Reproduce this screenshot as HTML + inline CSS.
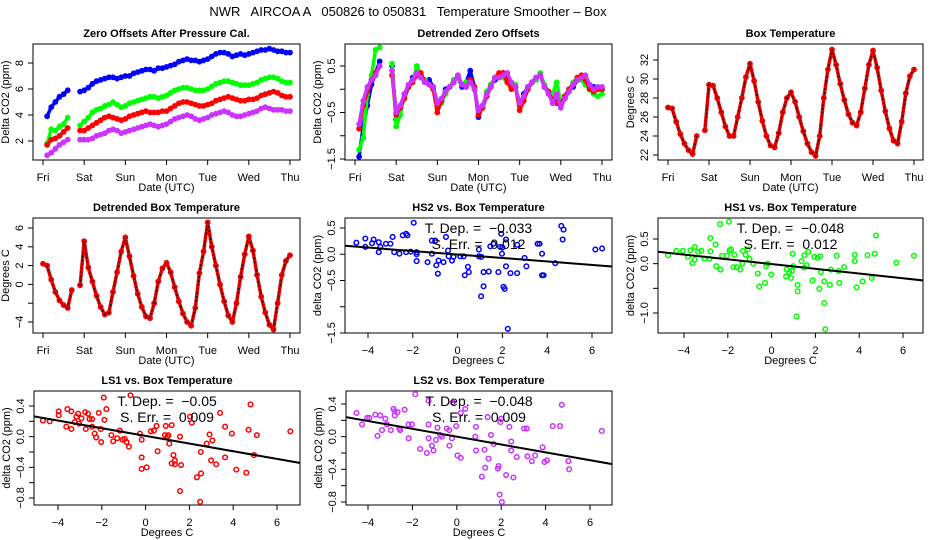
<!DOCTYPE html>
<html><head><meta charset="utf-8"><style>
html,body{margin:0;padding:0;background:#fff;}
svg{display:block;font-family:"Liberation Sans",sans-serif;}
text{white-space:pre;}
</style></head><body>
<svg id="fig" width="936" height="540" viewBox="0 0 936 540" xmlns="http://www.w3.org/2000/svg">
<rect width="936" height="540" fill="#fff"/>
<text x="408" y="16" font-size="13" text-anchor="middle" xml:space="preserve">NWR   AIRCOA A   050826 to 050831   Temperature Smoother – Box</text>
</svg>
<script>
// ---------- data ----------
const dayLabels = ["Fri","Sat","Sun","Mon","Tue","Wed","Thu"];
const zeroBlue = [3.9,4.6,5.0,5.4,5.6,5.9,null,null,5.8,5.9,6.1,6.4,6.6,6.7,6.8,6.9,6.9,6.8,6.9,7.0,7.0,7.2,7.3,7.4,7.5,7.5,7.4,7.6,7.6,7.7,7.8,7.9,8.1,8.2,8.3,8.2,8.2,8.1,8.2,8.3,8.5,8.7,8.8,8.8,8.7,8.5,8.6,8.7,8.6,8.7,8.8,8.9,9.0,9.0,9.1,9.0,8.9,8.9,8.8,8.8];
const zeroGreen = [1.8,2.9,2.8,3.1,3.3,3.8,null,null,3.2,3.5,3.8,4.2,4.4,4.5,4.7,4.8,5.0,4.8,4.6,4.7,4.9,5.0,5.1,5.2,5.3,5.4,5.4,5.3,5.4,5.5,5.7,5.9,6.0,6.1,6.1,6.0,5.9,5.9,5.9,6.0,6.2,6.4,6.5,6.6,6.6,6.5,6.4,6.3,6.3,6.3,6.4,6.5,6.7,6.8,6.9,6.9,6.8,6.6,6.5,6.5];
const zeroRed = [1.7,2.1,2.2,2.4,2.7,3.0,null,null,2.8,2.8,3.0,3.2,3.4,3.6,3.8,3.9,3.8,3.7,3.6,3.7,3.9,4.0,4.1,4.2,4.3,4.2,4.2,4.2,4.3,4.3,4.5,4.7,4.9,5.0,5.0,4.9,4.8,4.7,4.7,4.8,4.9,5.1,5.2,5.3,5.4,5.3,5.2,5.1,5.1,5.2,5.2,5.3,5.5,5.6,5.7,5.8,5.7,5.5,5.4,5.4];
const zeroPurple = [0.9,1.1,1.4,1.7,1.9,2.1,null,null,2.1,2.1,2.1,2.2,2.4,2.5,2.6,2.8,2.9,2.8,2.6,2.7,2.8,2.9,3.0,3.1,3.2,3.3,3.2,3.1,3.2,3.3,3.5,3.7,3.8,3.9,4.0,3.9,3.7,3.6,3.7,3.8,4.0,4.1,4.2,4.3,4.2,4.0,3.9,3.9,4.0,4.1,4.2,4.3,4.5,4.6,4.5,4.4,4.4,4.4,4.3,4.3];
const detBlue = [-1.45,-0.8,-0.35,0.1,0.35,0.6,null,null,0.5,-0.65,-0.4,-0.1,0.05,0.25,0.35,0.3,0.15,0.2,0.05,-0.3,-0.25,0.0,0.05,0.2,0.25,0.05,0.15,0.4,0.05,-0.6,-0.35,-0.15,0.1,0.2,0.3,0.35,0.3,0.05,0.05,-0.35,-0.1,0.05,0.15,0.25,0.3,0.05,-0.05,-0.15,-0.2,-0.35,-0.15,0.0,0.05,0.2,0.25,0.1,0.05,0.05,0.0,0.0];
const detGreen = [-1.3,-1.05,-0.1,0.3,0.85,0.9,null,null,0.55,-0.8,-0.55,-0.1,0.05,0.15,0.5,0.3,0.2,0.1,0.0,-0.4,-0.3,-0.1,0.05,0.2,0.25,0.1,0.15,0.2,0.0,-0.5,-0.4,-0.05,0.1,0.25,0.3,0.25,0.15,0.05,0.1,-0.45,-0.2,0.05,0.15,0.2,0.35,0.1,-0.05,-0.1,0.15,-0.3,-0.2,0.0,0.15,0.25,0.2,0.1,0.0,-0.1,-0.15,-0.1];
const detRed = [-0.85,-0.35,-0.05,0.2,0.35,0.5,null,null,0.3,-0.55,-0.4,-0.2,0.05,0.15,0.3,0.35,0.15,0.1,0.0,-0.5,-0.25,-0.05,0.05,0.15,0.3,0.1,0.05,0.2,0.05,-0.55,-0.4,-0.15,0.05,0.25,0.35,0.35,0.15,0.0,0.05,-0.45,-0.25,0.0,0.15,0.25,0.3,0.05,-0.05,-0.25,-0.3,-0.3,-0.15,0.0,0.1,0.25,0.3,0.2,0.0,-0.05,0.0,0.0];
const detPurple = [-0.75,-0.25,0.05,0.2,0.3,0.5,null,null,0.4,-0.5,-0.35,-0.1,0.1,0.2,0.35,0.25,0.15,0.1,0.05,-0.3,-0.2,-0.05,0.05,0.15,0.3,0.1,0.05,0.15,0.0,-0.45,-0.35,-0.1,0.05,0.25,0.25,0.3,0.35,0.15,0.05,-0.3,-0.15,0.05,0.15,0.25,0.3,0.05,-0.1,-0.3,-0.1,-0.4,-0.2,-0.05,0.1,0.2,0.25,0.3,0.1,0.0,0.05,0.05];
const boxTemp = [27.0,26.9,25.5,24.2,23.2,22.5,22.1,24.0,null,24.6,29.4,29.3,28.0,26.5,25.0,24.0,24.0,26.0,28.0,30.2,31.6,29.8,27.6,25.6,24.0,23.0,22.8,24.3,26.5,28.0,28.6,27.6,26.0,24.5,23.2,22.3,21.9,24.0,28.0,31.0,33.1,31.5,29.5,27.8,26.3,25.4,25.1,26.5,29.0,31.5,33.0,31.2,28.8,26.6,24.8,23.5,23.2,25.5,28.5,30.3,31.0];
const detBoxTemp = [2.2,2.0,0.5,-0.8,-1.7,-2.2,-2.5,-0.6,null,-0.1,4.6,1.8,0.3,-1.2,-2.4,-3.2,-3.0,-0.8,1.3,3.5,5.0,3.0,0.9,-1.0,-2.4,-3.4,-3.6,-2.0,0.3,1.7,2.3,1.3,-0.3,-1.8,-3.1,-4.0,-4.4,-2.5,1.2,3.5,6.6,4.0,2.0,0.0,-1.8,-3.3,-4.0,-2.0,0.8,3.2,5.1,3.6,1.0,-1.3,-3.0,-4.3,-4.8,-2.0,1.0,2.5,3.1];
const hs2X = [-4.52,-4.12,-4.12,-3.75,-3.82,-3.52,-3.52,-3.45,-3.2,-3.0,-2.9,-2.83,-2.6,-2.45,-2.3,-2.24,-2.3,-2.1,-1.96,-1.83,-1.83,-1.83,-1.34,-1.15,-1.15,-1.0,-0.95,-0.88,-0.85,-0.63,-0.52,-0.43,-0.4,-0.25,-0.18,0.12,0.27,0.32,0.46,0.5,0.95,0.95,1.06,1.05,1.16,1.16,1.39,1.46,1.6,1.82,1.9,1.95,1.98,2.0,2.05,2.1,2.16,2.16,2.24,2.36,2.66,2.66,2.99,3.07,3.57,3.66,3.77,3.77,3.84,4.36,4.63,4.73,4.69,6.15,6.45];
const hs2Y = [0.22,0.30,0.14,0.28,0.21,0.23,0.04,0.14,0.2,0.2,0.33,0.04,0.01,0.36,0.39,0.36,0.04,0.05,0.6,0.04,0.0,-0.13,-0.15,0.26,0.01,0.26,-0.21,-0.37,-0.12,-0.15,0.33,0.07,-0.04,-0.12,-0.05,-0.04,-0.04,-0.4,-0.24,-0.34,0.09,-0.04,-0.05,-0.8,-0.61,-0.34,-0.33,0.15,0.2,-0.34,0.14,0.39,0.01,0.13,-0.62,-0.66,-0.23,0.28,-1.42,-0.36,0.18,-0.36,-0.07,-0.23,0.2,0.2,0.01,-0.4,-0.4,-0.17,0.54,0.47,0.28,0.09,0.11];
const hs1X = [-4.73,-4.35,-4.05,-3.82,-3.71,-3.62,-3.51,-3.51,-3.36,-3.21,-3.06,-2.83,-2.8,-2.79,-2.56,-2.53,-2.35,-2.33,-2.26,-2.04,-1.95,-1.92,-1.85,-1.74,-1.7,-1.59,-1.44,-1.34,-1.31,-1.19,-1.09,-1.01,-0.83,-0.63,-0.56,-0.3,-0.25,-0.18,-0.02,0.66,0.69,0.81,0.89,0.92,0.96,0.99,1.14,1.19,1.19,1.37,1.49,1.49,1.6,1.67,1.87,1.95,2.1,2.18,2.22,2.25,2.4,2.4,2.45,2.66,2.71,2.97,3.06,3.09,3.31,3.8,3.8,3.88,4.15,4.38,4.57,4.71,4.76,5.7,6.5];
const hs1Y = [0.17,0.26,0.26,0.14,0.27,0.01,0.34,0.08,0.24,0.26,0.1,0.1,0.52,0.25,0.39,-0.05,0.8,-0.12,0.16,0.16,0.85,0.27,0.29,-0.07,0.18,-0.07,-0.12,0,0.26,0.18,0.29,0.1,0,-0.2,-0.46,-0.39,-0.05,0,-0.22,-0.26,-0.12,-0.17,-0.29,-0.15,0.2,-0.05,-1.07,-0.43,-0.56,0.05,0.17,-0.08,-0.03,0.24,-0.34,0.14,0.12,-0.51,0.15,-0.17,-0.36,-0.8,-1.33,-0.43,-0.12,0.16,-0.15,-0.39,-0.07,0.18,0.05,-0.48,-0.36,0.17,-0.29,0.2,0.57,0.02,0.16];
const ls1X = [-4.69,-4.38,-3.97,-3.97,-3.57,-3.62,-3.39,-3.39,-3.24,-3.16,-3.08,-3.04,-2.93,-2.76,-2.73,-2.63,-2.56,-2.44,-2.44,-2.33,-2.26,-2.14,-2.05,-2.03,-1.91,-1.88,-1.79,-1.56,-1.48,-1.3,-1.18,-1.05,-0.95,-0.87,-0.76,-0.69,-0.26,-0.18,-0.18,-0.18,0.05,0.24,0.38,0.5,0.55,0.88,0.92,0.99,1.04,1.08,1.19,1.19,1.27,1.34,1.34,1.57,1.57,1.62,2.03,2.11,2.34,2.49,2.52,2.53,2.79,2.92,2.99,3.05,3.22,3.4,3.63,3.63,3.94,4.14,4.6,4.7,4.79,4.95,5.08,6.61];
const ls1Y = [0.21,0.2,0.33,0.28,0.36,0.13,0.33,0.1,0.19,0.26,0.3,0.17,0.24,0.32,0.1,0.3,0.23,0.23,0.13,0.04,-0.01,0.31,0.1,-0.07,0.51,0.22,0.36,0.02,-0.06,-0.02,0.08,-0.04,-0.03,-0.07,-0.13,0.54,0.04,-0.04,-0.27,-0.42,-0.4,0.07,0.08,0.14,-0.19,0.02,0.14,0,0.02,-0.09,0.15,-0.35,-0.24,-0.31,-0.36,0,-0.71,-0.37,0.26,0.18,-0.53,-0.85,-0.2,-0.48,-0.09,0.03,-0.31,-0.05,-0.36,0.31,-0.27,0.13,0.04,-0.43,-0.47,0.09,0.42,-0.24,0.02,0.07];
const ls2X = [-4.52,-4.27,-4.04,-3.94,-3.67,-3.57,-3.45,-3.37,-3.22,-3.15,-2.97,-2.85,-2.8,-2.8,-2.67,-2.59,-2.55,-2.35,-2.17,-2.17,-2.02,-1.87,-1.65,-1.35,-1.27,-1.27,-1.27,-1.12,-1.05,-0.94,-0.87,-0.75,-0.67,-0.45,-0.34,-0.33,-0.22,-0.18,-0.03,0.03,0.18,0.18,0.38,0.83,0.86,0.87,1.25,1.28,1.13,1.43,1.39,1.54,1.66,1.85,1.88,1.93,1.96,2.0,2.03,2.22,2.37,2.45,2.45,2.55,2.7,3.03,3.15,3.18,3.38,3.53,3.86,3.95,4.06,4.32,4.65,4.73,5.03,5.06,6.53];
const ls2Y = [0.29,0.15,0.23,0.23,0.27,0.01,0.26,0.08,0.22,0.15,0.08,0.34,0.26,0.31,0.3,0.1,0.08,0.33,-0.02,0.15,0.15,0.52,-0.15,-0.2,0.15,-0.02,0.44,-0.11,-0.17,-0.04,0.11,0.02,0,0.1,0.08,-0.11,-0.02,0.42,0.13,-0.23,-0.26,0.29,0.34,0,0.12,-0.17,-0.16,-0.38,-0.49,-0.27,0.24,0.02,-0.09,-0.39,-0.36,-0.71,0.18,0.22,-0.8,-0.47,0.12,-0.06,-0.17,-0.5,-0.25,0.1,0.1,-0.24,-0.3,-0.23,-0.13,-0.31,-0.29,0.13,0.13,0.39,-0.3,-0.4,0.07];
const fitSlopes = [-0.033,-0.048,-0.05,-0.048];
const fitIntercepts = [-0.005,-0.008,0.01,0.0];
const fitLabels = ["−0.033","−0.048","−0.05","−0.048"];
const errLabels = ["0.012","0.012","0.009","0.009"];

// ---------- drawing ----------
const NS = "http://www.w3.org/2000/svg";
const svg = document.getElementById("fig");
function mk(tag, attrs, parent) {
  const e = document.createElementNS(NS, tag);
  for (const k in attrs) e.setAttribute(k, attrs[k]);
  (parent || svg).appendChild(e);
  return e;
}
function lin(v0, p0, v1, p1) { return v => p0 + (v - v0) * (p1 - p0) / (v1 - v0); }

function panel(cfg) {
  const g = mk("g", {});
  
  
  const [l, t, r, b] = cfg.box;
  const X = lin(cfg.xr[0], cfg.xr[1], cfg.xr[2], cfg.xr[3]);
  const Y = lin(cfg.yr[0], cfg.yr[1], cfg.yr[2], cfg.yr[3]);
  const box = mk("rect", {x: l, y: t, width: r - l, height: b - t, fill: "none", stroke: "#000", "stroke-width": 1}, g);
  
  
  const title = mk("text", {x: (l + r) / 2, y: t - 7, "font-size": 11, "font-weight": "bold", "text-anchor": "middle"}, g);
  title.textContent = cfg.title;
  
  
  const xa = mk("g", {}, g);
  
  
  const xt0 = X(cfg.xticks[0]), xt1 = X(cfg.xticks[cfg.xticks.length - 1]);
  mk("line", {x1: xt0, x2: xt1, y1: b, y2: b, stroke: "#000"}, xa);
  cfg.xticks.forEach((v, i) => {
    const px = X(v);
    mk("line", {x1: px, x2: px, y1: b, y2: b + 5, stroke: "#000"}, xa);
    const tx = mk("text", {x: px, y: b + 21, "font-size": 11, "text-anchor": "middle"}, xa);
    tx.textContent = cfg.xlabels ? cfg.xlabels[i] : (v < 0 ? "−" + Math.abs(v) : String(v));
  });
  const xl = mk("text", {x: (l + r) / 2, y: b + 31, "font-size": 11, "text-anchor": "middle"}, g);
  xl.textContent = cfg.xtitle;
  
  
  const ya = mk("g", {}, g);
  
  
  mk("line", {x1: l, x2: l, y1: Y(cfg.yticks[0]), y2: Y(cfg.yticks[cfg.yticks.length - 1]), stroke: "#000"}, ya);
  cfg.yticks.forEach(v => {
    const py = Y(v);
    mk("line", {x1: l - 5, x2: l, y1: py, y2: py, stroke: "#000"}, ya);
    if (cfg.ylabels.indexOf(v) >= 0) {
      const s = (v < 0 ? "−" : "") + Math.abs(v).toFixed(cfg.ydec);
      const tx = mk("text", {x: 0, y: 0, "font-size": 11, "text-anchor": "middle", transform: `translate(${l - 10},${py}) rotate(-90)`}, ya);
      tx.textContent = s;
    }
  });
  const yl = mk("text", {x: 0, y: 0, "font-size": 11, "text-anchor": "middle", transform: `translate(${l - 24},${(t + b) / 2}) rotate(-90)`}, g);
  yl.textContent = cfg.ytitle;
  
  
  const clip = "clip" + cfg.name;
  const cp = mk("clipPath", {id: clip}, g);
  mk("rect", {x: l, y: t, width: r - l, height: b - t}, cp);
  const plot = mk("g", {"clip-path": `url(#${clip})`}, g);
  return {g: plot, X, Y, l, r, t, b};
}

function timeSeries(p, vals, start, color, name, dark) {
  const sg = mk("g", {}, p.g);
  
  
  let d = "", pen = false;
  vals.forEach((v, i) => {
    if (v === null) { pen = false; return; }
    const x = p.X(start + i * 0.1), y = p.Y(v);
    d += (pen ? "L" : "M") + x.toFixed(1) + " " + y.toFixed(1);
    pen = true;
  });
  mk("path", {d, fill: "none", stroke: color, "stroke-width": 3.5, "stroke-linejoin": "round", "stroke-linecap": "round"}, sg);
  if (dark) mk("path", {d, fill: "none", stroke: "#000", "stroke-width": 1.2, "stroke-dasharray": "2 2"}, sg);
  vals.forEach((v, i) => {
    if (v === null) return;
    mk("circle", {cx: p.X(start + i * 0.1), cy: p.Y(v), r: 2.2, fill: "none", stroke: color, "stroke-width": 1.4}, sg);
  });
}

function scatter(p, xs, ys, color, k) {
  const sg = mk("g", {}, p.g);
  
  
  xs.forEach((xv, i) => {
    mk("circle", {cx: p.X(xv), cy: p.Y(ys[i]), r: 2.3, fill: "none", stroke: color, "stroke-width": 1.5}, sg);
  });
  const x0 = -6, x1 = 8;
  const ln = mk("line", {x1: p.X(x0), y1: p.Y(fitIntercepts[k] + fitSlopes[k] * x0), x2: p.X(x1), y2: p.Y(fitIntercepts[k] + fitSlopes[k] * x1), stroke: "#000", "stroke-width": 2}, p.g);
  
  
  const cx = (p.l + p.r) / 2;
  const a1 = mk("text", {x: cx, y: p.t + 15, "font-size": 14, "text-anchor": "middle"}, svg);
  a1.textContent = "T. Dep. =  " + fitLabels[k];
  
  
  const a2 = mk("text", {x: cx, y: p.t + 31, "font-size": 14, "text-anchor": "middle"}, svg);
  a2.textContent = "S. Err. =  " + errLabels[k];
  
  
}

const days = [0,1,2,3,4,5,6];
const p1 = panel({name: "zero-offsets-panel", box: [33,44,300,160], xr: [0,43,6,290], yr: [8,63,2,141],
  title: "Zero Offsets After Pressure Cal.", xticks: days, xlabels: dayLabels, xtitle: "Date (UTC)",
  yticks: [2,4,6,8], ylabels: [2,4,6,8], ydec: 0, ytitle: "Delta CO2 (ppm)"});
timeSeries(p1, zeroBlue, 0.1, "#0000ff", "series-hs2");
timeSeries(p1, zeroGreen, 0.1, "#00ff00", "series-hs1");
timeSeries(p1, zeroRed, 0.1, "#ff0000", "series-ls1");
timeSeries(p1, zeroPurple, 0.1, "#cc33ff", "series-ls2");
const p2 = panel({name: "detrended-zero-panel", box: [345,44,612,160], xr: [0,355,6,602], yr: [0.5,66,-1.5,159],
  title: "Detrended Zero Offsets", xticks: days, xlabels: dayLabels, xtitle: "Date (UTC)",
  yticks: [-1.5,-1,-0.5,0,0.5], ylabels: [-1.5,-0.5,0.5], ydec: 1, ytitle: "Delta CO2 (ppm)"});
timeSeries(p2, detBlue, 0.1, "#0000ff", "series-hs2");
timeSeries(p2, detGreen, 0.1, "#00ff00", "series-hs1");
timeSeries(p2, detRed, 0.1, "#ff0000", "series-ls1");
timeSeries(p2, detPurple, 0.1, "#cc33ff", "series-ls2");
const p3 = panel({name: "box-temperature-panel", box: [658,44,923,160], xr: [0,668,6,914], yr: [32,60,22,155],
  title: "Box Temperature", xticks: days, xlabels: dayLabels, xtitle: "Date (UTC)",
  yticks: [22,24,26,28,30,32], ylabels: [22,24,26,28,30,32], ydec: 0, ytitle: "Degrees C"});
timeSeries(p3, boxTemp, 0, "#ee0000", "series-box-temp", true);
const p4 = panel({name: "detrended-box-temp-panel", box: [33,218,300,333], xr: [0,43,6,290], yr: [6,228,-4,322],
  title: "Detrended Box Temperature", xticks: days, xlabels: dayLabels, xtitle: "Date (UTC)",
  yticks: [-4,-2,0,2,4,6], ylabels: [-4,0,2,4,6], ydec: 0, ytitle: "Degrees C"});
timeSeries(p4, detBoxTemp, 0, "#ee0000", "series-detrended-box-temp", true);
const degTicks = [-4,-2,0,2,4,6];
const p5 = panel({name: "hs2-vs-temp-panel", box: [345,218,612,333], xr: [-4,368,6,592], yr: [0.5,228,-1.5,333],
  title: "HS2 vs. Box Temperature", xticks: degTicks, xtitle: "Degrees C",
  yticks: [-1.5,-1,-0.5,0,0.5], ylabels: [-1.5,-0.5,0,0.5], ydec: 1, ytitle: "delta CO2 (ppm)"});
scatter(p5, hs2X, hs2Y, "#0000ff", 0);
const p6 = panel({name: "hs1-vs-temp-panel", box: [658,218,923,333], xr: [-4,684,6,903], yr: [0.5,239,-1.0,313],
  title: "HS1 vs. Box Temperature", xticks: degTicks, xtitle: "Degrees C",
  yticks: [-1,-0.5,0,0.5], ylabels: [-1,0,0.5], ydec: 1, ytitle: "delta CO2 (ppm)"});
scatter(p6, hs1X, hs1Y, "#00ff00", 1);
const p7 = panel({name: "ls1-vs-temp-panel", box: [34,391,300,505], xr: [-4,58,6,277], yr: [0.4,406,-0.8,498],
  title: "LS1 vs. Box Temperature", xticks: degTicks, xtitle: "Degrees C",
  yticks: [-0.8,-0.6,-0.4,-0.2,0,0.2,0.4], ylabels: [-0.8,-0.4,0,0.4], ydec: 1, ytitle: "delta CO2 (ppm)"});
scatter(p7, ls1X, ls1Y, "#ff0000", 2);
const p8 = panel({name: "ls2-vs-temp-panel", box: [346,391,612,505], xr: [-4,368,6,590], yr: [0.4,404,-0.8,502],
  title: "LS2 vs. Box Temperature", xticks: degTicks, xtitle: "Degrees C",
  yticks: [-0.8,-0.6,-0.4,-0.2,0,0.2,0.4], ylabels: [-0.8,-0.4,0,0.4], ydec: 1, ytitle: "delta CO2 (ppm)"});
scatter(p8, ls2X, ls2Y, "#cc33ff", 3);
</script>
</body></html>
